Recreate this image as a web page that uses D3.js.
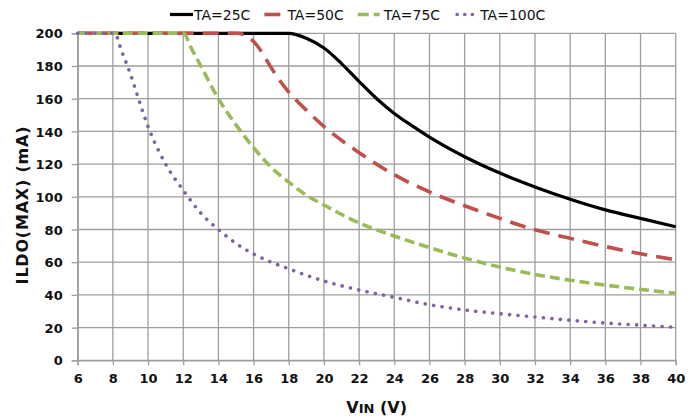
<!DOCTYPE html>
<html>
<head>
<meta charset="utf-8">
<script src="https://cdn.jsdelivr.net/npm/d3@7"></script>
<style>
  html, body { margin: 0; padding: 0; background: #fff; }
  svg { display: block; }
  text { font-family: "DejaVu Sans", Verdana, sans-serif; fill: #111; }
</style>
</head>
<body>
<svg id="chart" width="696" height="418"></svg>
<script>
// ---- Data ----
const seriesNames = ["TA=25C", "TA=50C", "TA=75C", "TA=100C"];

const vin25  = [6, 8, 10, 12, 14, 16, 17, 17.5, 18, 19, 20, 21, 22, 23, 24, 25, 26, 28, 30, 32, 34, 36, 38, 40];
const ildo25 = [200, 200, 200, 200, 200, 200, 200, 200, 200, 197, 191, 181.5, 170.5, 160, 151, 143.5, 136.5, 124.5, 114.5, 106, 98.5, 92, 86.8, 81.7];

const vin50  = [6, 8, 10, 12, 14, 15, 15.5, 16, 16.5, 17, 18, 19, 20, 22, 24, 26, 28, 30, 32, 34, 36, 38, 40];
const ildo50 = [200, 200, 200, 200, 200, 200, 199, 195, 188, 179, 164, 153, 143, 127, 113.5, 103, 94.5, 86.8, 79.8, 74.6, 69.6, 65.2, 61.5];

const vin75  = [6, 8, 10, 12, 12.5, 13, 14, 15, 16, 17, 18, 19, 20, 22, 24, 26, 28, 30, 32, 34, 36, 38, 40];
const ildo75 = [200, 200, 200, 200, 190, 180, 160, 144, 130, 118, 109, 101, 95, 84, 76, 69, 62.5, 57, 52.5, 49, 46, 43.4, 41];

const vin100  = [6, 8, 8.1, 8.5, 9, 9.5, 10, 11, 12, 13, 14, 15, 16, 17, 18, 19, 20, 22, 24, 26, 28, 30, 32, 34, 36, 38, 40];
const ildo100 = [200, 200, 200, 189, 175, 158.5, 143, 120, 104, 90, 80, 71.5, 65, 60, 56, 52, 48.5, 43, 38.5, 34, 30.8, 28.5, 26.5, 24.5, 22.8, 21.5, 20.2];

const xTicks = [6, 8, 10, 12, 14, 16, 18, 20, 22, 24, 26, 28, 30, 32, 34, 36, 38, 40];
const yTicks = [0, 20, 40, 60, 80, 100, 120, 140, 160, 180, 200];

// ---- Styles ----
const colors = ["#000000", "#c0504d", "#9bbb59", "#8064a2"];
const dashes = [null, "16 9", "10 5", "0.1 8.4"];
const widths = [3.2, 3.6, 3.6, 3.6];
const caps   = ["butt", "butt", "butt", "round"];

const series = [
  { name: seriesNames[0], x: vin25,  y: ildo25 },
  { name: seriesNames[1], x: vin50,  y: ildo50 },
  { name: seriesNames[2], x: vin75,  y: ildo75 },
  { name: seriesNames[3], x: vin100, y: ildo100 }
];

const svg = d3.select("#chart");
const mLeft = 77.7, mRight = 675.7, mTop = 33.3, mBottom = 360.3;

const x = d3.scaleLinear().domain([6, 40]).range([mLeft, mRight]);
const y = d3.scaleLinear().domain([0, 200]).range([mBottom, mTop]);

const gridColor = "#9e9e9e";

// grid
const grid = svg.append("g");
grid.selectAll("line.v").data(xTicks).enter().append("line")
  .attr("x1", d => x(d)).attr("x2", d => x(d))
  .attr("y1", mTop).attr("y2", mBottom)
  .attr("stroke", gridColor).attr("stroke-width", 1.3);
grid.selectAll("line.h").data(yTicks).enter().append("line")
  .attr("x1", mLeft).attr("x2", mRight)
  .attr("y1", d => y(d)).attr("y2", d => y(d))
  .attr("stroke", gridColor).attr("stroke-width", 1.3);

// axes
const xAxis = d3.axisBottom(x).tickValues(xTicks).tickSize(5).tickPadding(8).tickFormat(d3.format("d"));
const yAxis = d3.axisLeft(y).tickValues(yTicks).tickSize(6).tickPadding(9).tickFormat(d3.format("d"));

const gx = svg.append("g").attr("transform", `translate(0,${mBottom})`).call(xAxis);
const gy = svg.append("g").attr("transform", `translate(${mLeft},0)`).call(yAxis);
[gx, gy].forEach(g => {
  g.select(".domain").attr("stroke", gridColor).attr("stroke-width", 1.3);
  g.selectAll(".tick line").attr("stroke", gridColor).attr("stroke-width", 1.3);
  g.selectAll(".tick text")
    .style("font-family", "'DejaVu Sans', Verdana, sans-serif")
    .style("font-size", "13px").style("font-weight", "bold").attr("fill", "#111");
});
gy.selectAll(".tick text").attr("dy", "0.36em");

// lines
const line = d3.line().curve(d3.curveMonotoneX);
const gl = svg.append("g");
series.forEach((s, i) => {
  const pts = s.x.map((v, k) => [x(v), y(s.y[k])]);
  gl.append("path")
    .attr("d", line(pts))
    .attr("fill", "none")
    .attr("stroke", colors[i])
    .attr("stroke-width", widths[i])
    .attr("stroke-linecap", caps[i])
    .attr("stroke-dasharray", dashes[i]);
});

// legend
const lg = svg.append("g");
let lx = 170;
const ly = 14.5;
const sampleLens = [23, 19, 22, 22];
series.forEach((s, i) => {
  const sl = sampleLens[i];
  lg.append("line")
    .attr("x1", lx).attr("x2", lx + sl)
    .attr("y1", ly).attr("y2", ly)
    .attr("stroke", colors[i]).attr("stroke-width", widths[i])
    .attr("stroke-linecap", caps[i])
    .attr("stroke-dasharray", i === 2 ? "11 5" : (i === 3 ? "0.1 7.5" : dashes[i]))
    .attr("stroke-dashoffset", i === 3 ? -3 : 0);
  const t = lg.append("text")
    .attr("x", lx + sl + (i === 0 ? 1 : 4)).attr("y", ly + 5)
    .style("font-size", "14px")
    .text(s.name);
  lx = lx + sl + (i === 0 ? 1 : 4) + t.node().getComputedTextLength() + 14;
});

// axis titles
const xt = svg.append("text")
  .attr("x", (mLeft + mRight) / 2).attr("y", 413)
  .attr("text-anchor", "middle")
  .style("font-weight", "bold");
xt.append("tspan").style("font-size", "16px").text("V");
xt.append("tspan").style("font-size", "13px").text("IN");
xt.append("tspan").style("font-size", "16px").text(" (V)");

svg.append("text")
  .attr("transform", `translate(28,205) rotate(-90)`)
  .attr("text-anchor", "middle")
  .style("font-size", "16px").style("font-weight", "bold")
  .style("letter-spacing", "0.8px")
  .text("ILDO(MAX) (mA)");
</script>
</body>
</html>
